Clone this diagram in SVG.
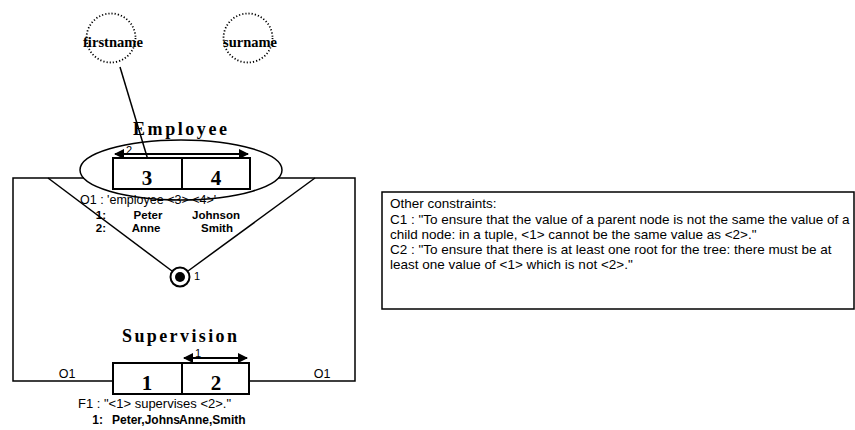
<svg xmlns="http://www.w3.org/2000/svg" width="855" height="430" viewBox="0 0 855 430">
<defs>
<style>
.ln{stroke:#000;stroke-width:1.5;fill:none}
.box{stroke:#000;stroke-width:2;fill:#fff}
.dot{stroke:#000;stroke-width:1.8;fill:none;stroke-dasharray:1.2 2}
.sans{font-family:"Liberation Sans",Arial,sans-serif;fill:#000}
.serif{font-family:"Liberation Serif","Times New Roman",serif;font-weight:bold;fill:#000}
.arr{stroke:#000;stroke-width:2;fill:none;marker-start:url(#ah);marker-end:url(#ah)}
</style>
<marker id="ah" viewBox="0 0 10 10" refX="9" refY="5" markerWidth="5" markerHeight="5" orient="auto-start-reverse" markerUnits="strokeWidth">
<path d="M0,0 L10,5 L0,10 z" fill="#000"/>
</marker>
</defs>
<rect width="855" height="430" fill="#fff"/>

<g id="connectors">
<line class="ln" x1="120" y1="67" x2="148" y2="160"/>
<polyline class="ln" points="84,178 13,178 13,381 113,381"/>
<polyline class="ln" points="278,178 355,178 355,381 249,381"/>
<line class="ln" x1="48" y1="178" x2="172" y2="271"/>
<line class="ln" x1="315" y1="178" x2="188" y2="271"/>
<text class="sans" x="67" y="378" font-size="12.5" text-anchor="middle">O1</text>
<text class="sans" x="322" y="378" font-size="12.5" text-anchor="middle">O1</text>
</g>

<g id="firstname">
<circle class="dot" cx="111" cy="38" r="24.5"/>
<text class="serif" x="113" y="47" font-size="15" text-anchor="middle" textLength="60" lengthAdjust="spacingAndGlyphs">firstname</text>
</g>

<g id="surname">
<circle class="dot" cx="248" cy="38" r="24.5"/>
<text class="serif" x="250" y="47" font-size="15" text-anchor="middle" textLength="54" lengthAdjust="spacingAndGlyphs">surname</text>
</g>

<g id="employee">
<text class="serif" x="133" y="135" font-size="18" textLength="94" lengthAdjust="spacing">Employee</text>
<ellipse class="ln" cx="181" cy="170" rx="101" ry="30"/>
<rect class="box" x="113" y="158" width="69" height="31"/>
<rect class="box" x="182" y="158" width="68" height="31"/>
<text class="serif" x="147" y="185" font-size="21" text-anchor="middle">3</text>
<text class="serif" x="216" y="185" font-size="21" text-anchor="middle">4</text>
<line class="arr" x1="115" y1="154" x2="248" y2="154"/>
<text class="sans" x="126" y="154" font-size="11">2</text>
<text class="sans" x="80" y="204" font-size="12.5">O1 : 'employee &lt;3&gt; &lt;4&gt;'</text>
<text class="sans" x="106" y="219" font-size="11.5" font-weight="bold" text-anchor="end">1:</text>
<text class="sans" x="106" y="232" font-size="11.5" font-weight="bold" text-anchor="end">2:</text>
<text class="sans" x="148" y="219" font-size="11.5" font-weight="bold" text-anchor="middle">Peter</text>
<text class="sans" x="216" y="219" font-size="11.5" font-weight="bold" text-anchor="middle">Johnson</text>
<text class="sans" x="146" y="232" font-size="11.5" font-weight="bold" text-anchor="middle">Anne</text>
<text class="sans" x="217" y="232" font-size="11.5" font-weight="bold" text-anchor="middle">Smith</text>
</g>

<g id="ring">
<circle cx="180" cy="277" r="9.5" fill="#fff" stroke="#000" stroke-width="2"/>
<circle cx="180" cy="277" r="5" fill="#000"/>
<text class="sans" x="194" y="280" font-size="11">1</text>
</g>

<g id="supervision">
<text class="serif" x="122" y="342" font-size="18" textLength="115" lengthAdjust="spacing">Supervision</text>
<rect class="box" x="113" y="363" width="69" height="31"/>
<rect class="box" x="182" y="363" width="67" height="31"/>
<text class="serif" x="147" y="390" font-size="21" text-anchor="middle">1</text>
<text class="serif" x="216" y="390" font-size="21" text-anchor="middle">2</text>
<line class="arr" x1="184" y1="358" x2="247" y2="358"/>
<text class="sans" x="195" y="357" font-size="11">1</text>
<text class="sans" x="78" y="408" font-size="13">F1 : "&lt;1&gt; supervises &lt;2&gt;."</text>
<text class="sans" x="103" y="424" font-size="12" font-weight="bold" text-anchor="end">1:</text>
<text class="sans" x="112" y="424" font-size="12" font-weight="bold">Peter,Johns</text>
<text class="sans" x="179" y="424" font-size="12" font-weight="bold">Anne,Smith</text>
</g>

<g id="constraints">
<rect x="382" y="192" width="472" height="117" fill="#fff" stroke="#000" stroke-width="1.5"/>
<text class="sans" x="390" y="208" font-size="13.5">Other constraints:</text>
<text class="sans" x="390" y="224" font-size="13.5">C1 : "To ensure that the value of a parent node is not the same the value of a</text>
<text class="sans" x="390" y="239" font-size="13.5">child node: in a tuple, &lt;1&gt; cannot be the same value as &lt;2&gt;."</text>
<text class="sans" x="390" y="254" font-size="13.5">C2 : "To ensure that there is at least one root for the tree: there must be at</text>
<text class="sans" x="390" y="269" font-size="13.5">least one value of &lt;1&gt; which is not &lt;2&gt;."</text>
</g>
</svg>
